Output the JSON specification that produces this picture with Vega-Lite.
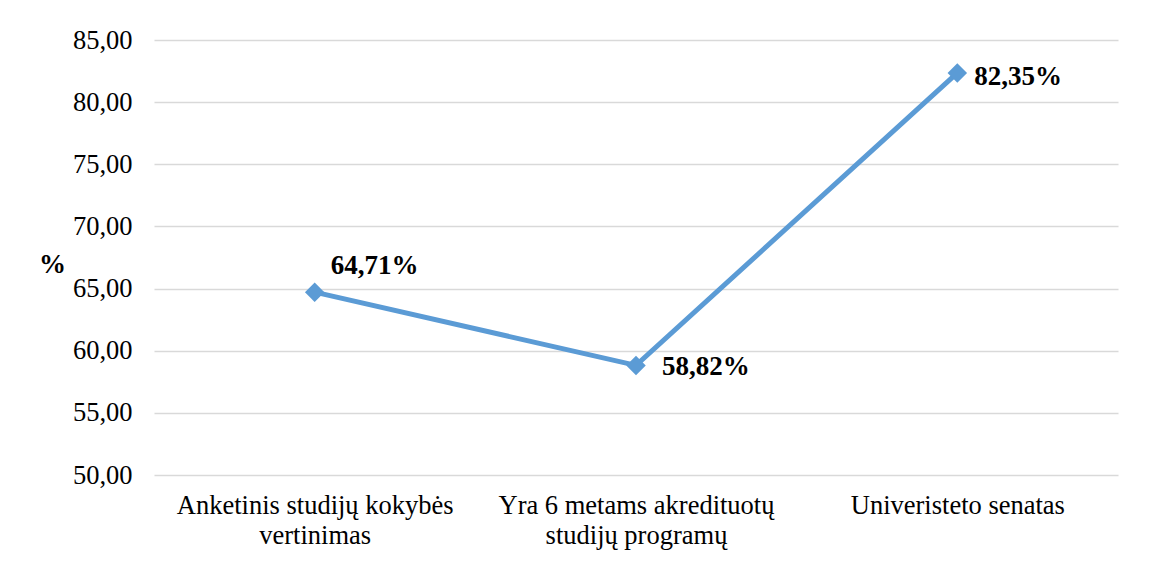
{
  "$schema": "https://vega.github.io/schema/vega-lite/v6.json",
  "width": 964,
  "height": 435,
  "autosize": {"type": "none"},
  "padding": {"left": 154, "top": 40, "right": 33, "bottom": 87},
  "background": "white",
  "config": {
    "font": "Liberation Serif",
    "view": {"stroke": null},
    "axis": {"labelFont": "Liberation Serif", "titleFont": "Liberation Serif"}
  },
  "data": {
    "values": [
      {"cat": "Anketinis studijų kokybės\nvertinimas", "value": 64.71},
      {"cat": "Yra 6 metams akredituotų\nstudijų programų", "value": 58.82},
      {"cat": "Univeristeto senatas", "value": 82.35}
    ]
  },
  "encoding": {
    "x": {
      "field": "cat", "type": "nominal", "sort": null,
      "scale": {"type": "point", "padding": 0.5},
      "axis": {
        "title": null, "labelAngle": 0, "domain": false, "ticks": false,
        "labelFontSize": 26.5, "labelColor": "#000000", "labelPadding": 17,
        "labelLineHeight": 30, "labelBaseline": "top", "labelLimit": 0,
        "labelExpr": "split(datum.label, '\\n')"
      }
    },
    "y": {
      "field": "value", "type": "quantitative",
      "scale": {"domain": [50, 85], "nice": false, "zero": false},
      "axis": {
        "title": "%", "titleAngle": 0, "titleFontSize": 27, "titleFontWeight": "bold",
        "titleColor": "#000000", "titleX": -102, "titleY": 224, "titleAlign": "center",
        "titleBaseline": "middle",
        "values": [50, 55, 60, 65, 70, 75, 80, 85],
        "labelExpr": "replace(format(datum.value, '.2f'), '.', ',')",
        "labelFontSize": 26.5, "labelColor": "#000000", "labelPadding": 22,
        "domain": false, "ticks": false,
        "grid": true, "gridColor": "#d9d9d9", "gridWidth": 1.5
      }
    }
  },
  "layer": [
    {"mark": {"type": "line", "color": "#5B9BD5", "strokeWidth": 5}},
    {"mark": {"type": "point", "shape": "diamond", "filled": true, "color": "#5B9BD5", "size": 380, "opacity": 1}},
    {
      "transform": [{"filter": "datum.value > 60 && datum.value < 70"}],
      "mark": {"type": "text", "fontSize": 27, "fontWeight": "bold", "color": "#000000", "align": "left", "baseline": "middle", "dx": 16, "dy": -26,
        "text": {"expr": "replace(format(datum.value, '.2f'), '.', ',') + '%'"}}
    },
    {
      "transform": [{"filter": "datum.value < 60"}],
      "mark": {"type": "text", "fontSize": 27, "fontWeight": "bold", "color": "#000000", "align": "left", "baseline": "middle", "dx": 26, "dy": 2,
        "text": {"expr": "replace(format(datum.value, '.2f'), '.', ',') + '%'"}}
    },
    {
      "transform": [{"filter": "datum.value > 70"}],
      "mark": {"type": "text", "fontSize": 27, "fontWeight": "bold", "color": "#000000", "align": "left", "baseline": "middle", "dx": 17, "dy": 4,
        "text": {"expr": "replace(format(datum.value, '.2f'), '.', ',') + '%'"}}
    }
  ]
}
